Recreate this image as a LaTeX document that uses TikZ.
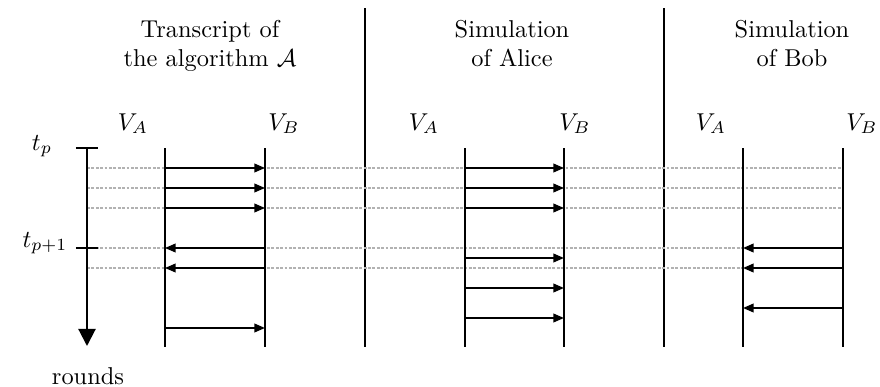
\documentclass[tikz,border=0pt]{standalone}
\usetikzlibrary{arrows.meta}
\begin{document}
\begin{tikzpicture}[x=0.41pt,y=-0.41pt,
  life/.style={line width=0.8pt},
  divider/.style={line width=0.8pt},
  axisline/.style={line width=0.85pt,-{Triangle[length=7pt,width=7pt]}},
  tick/.style={line width=0.8pt},
  msg/.style={line width=0.7pt,-{Triangle[length=4.4pt,width=3.6pt]}},
  guide/.style={gray!60,line width=0.45pt,dash pattern=on 1.2pt off 0.6pt},
  lbl/.style={inner sep=0pt,anchor=base},
  title/.style={inner sep=0pt,align=center,anchor=north}]
\useasboundingbox (0,0) rectangle (880,387);

% titles
\node[title] (ttl1) at (210,20) {Transcript of\\the algorithm $\mathcal{A}$};
\node[title] (ttl2) at (512,20) {Simulation\\of Alice};
\node[title] (ttl3) at (792,20) {Simulation\\of Bob};

% dividers
\coordinate (d1T) at (365,8);  \coordinate (d1B) at (365,347);
\coordinate (d2T) at (664,8);  \coordinate (d2B) at (664,347);
\draw[divider] (d1T) -- (d1B);
\draw[divider] (d2T) -- (d2B);

% participant labels
\node[lbl] (va1) at (133,130) {$V_A$};
\node[lbl] (vb1) at (284,130) {$V_B$};
\node[lbl] (va2) at (424,130) {$V_A$};
\node[lbl] (vb2) at (575,130) {$V_B$};
\node[lbl] (va3) at (711,130) {$V_A$};
\node[lbl] (vb3) at (862,130) {$V_B$};

% guide lines
\foreach \y [count=\i] in {168,188,208,248,268} {
  \coordinate (gL\i) at (87,\y);
  \coordinate (gR\i) at (843,\y);
  \draw[guide] (gL\i) -- (gR\i);
}

% round axis
\coordinate (axT) at (87,148);
\coordinate (axB) at (87,346);
\draw[axisline] (axT) -- (axB);
\coordinate (tk1L) at (76,148); \coordinate (tk1R) at (98,148);
\coordinate (tk2L) at (76,248); \coordinate (tk2R) at (98,248);
\draw[tick] (tk1L) -- (tk1R);
\draw[tick] (tk2L) -- (tk2R);
\node[lbl] (tp) at (42,150) {$t_p$};
\node[lbl] (tp1) at (45,247) {$t_{p+1}$};
\node[lbl] (rounds) at (88,384) {rounds};

% lifelines
\foreach \n/\x in {aA/165,aB/265,bA/465,bB/564,cA/743,cB/843} {
  \coordinate (\n T) at (\x,148);
  \coordinate (\n B) at (\x,347);
  \draw[life] (\n T) -- (\n B);
}

% column 1: transcript
\foreach \y [count=\i] in {168,188,208,328} {
  \coordinate (p1a\i) at (165,\y); \coordinate (p1b\i) at (265,\y);
  \draw[msg] (p1a\i) -- (p1b\i);
}
\foreach \y [count=\i] in {248,268} {
  \coordinate (q1a\i) at (165,\y); \coordinate (q1b\i) at (265,\y);
  \draw[msg] (q1b\i) -- (q1a\i);
}

% column 2: Alice
\foreach \y [count=\i] in {168,188,208,258,288,318} {
  \coordinate (p2a\i) at (465,\y); \coordinate (p2b\i) at (564,\y);
  \draw[msg] (p2a\i) -- (p2b\i);
}

% column 3: Bob
\foreach \y [count=\i] in {248,268,308} {
  \coordinate (q3a\i) at (743,\y); \coordinate (q3b\i) at (843,\y);
  \draw[msg] (q3b\i) -- (q3a\i);
}
\end{tikzpicture}
\end{document}
